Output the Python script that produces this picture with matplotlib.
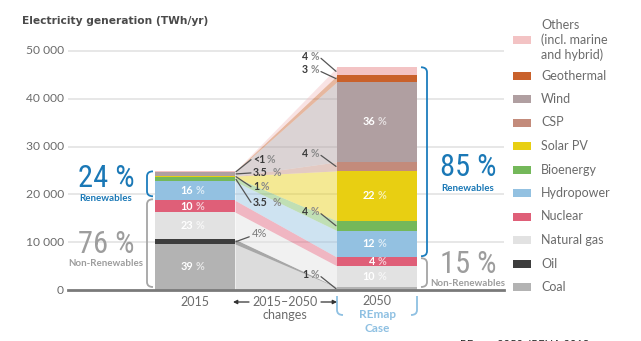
import numpy as np
import matplotlib
matplotlib.use("Agg")
import matplotlib.pyplot as plt
from matplotlib import font_manager
from matplotlib.path import Path
from matplotlib.patches import PathPatch, Rectangle

# ── data (TWh/yr) ────────────────────────────────────────────────────
sources = ["Coal", "Oil", "Natural gas", "Nuclear", "Hydropower", "Bioenergy",
           "Solar PV", "CSP", "Wind", "Geothermal",
           "Others\n(incl. marine\nand hybrid)"]
gen_2015 = [9630, 990, 5680, 2470, 3950, 860, 250, 20, 860, 80, 30]
gen_2050 = [550, 40, 4450, 1820, 5560, 2050, 10450, 1880, 16750, 1350, 1700]
is_renewable = [False, False, False, False, True, True, True, True, True, True, True]
colors = ["#b3b3b3", "#3d3d3d", "#e2e2e2", "#df5f78", "#93c1e1", "#74b85a",
          "#e8cf12", "#c38b7b", "#b09fa1", "#c9612b", "#f3c3c4"]
yticks = [0, 10000, 20000, 30000, 40000, 50000]
ytick_labels = ["0", "10 000", "20 000", "30 000", "40 000", "50 000"]

# which segments get a share printed inside the bar
inside_2015 = [0, 2, 3, 4]
inside_2050 = [2, 3, 4, 6, 8]
# leader labels: (segment, format, text offset in px)
lead_2015 = [(9, "<1", -12), (8, "{:.1f}", -1), (6, "{:.0f}", 10), (5, "{:.1f}", 23)]
lead_2050 = [(10, 15), (9, 9), (7, 13), (5, 14), (0, 14)]

names = {f.name for f in font_manager.fontManager.ttflist}
FONT = "Lato" if "Lato" in names else "DejaVu Sans"
BIG = next((n for n in ["Roboto Condensed", "Liberation Sans Narrow",
                        "Open Sans Condensed", "Noto Sans Display"] if n in names), FONT)
plt.rcParams["font.family"] = [FONT, "DejaVu Sans"]

DARK = "#3a3a3a"
GREY = "#6b6b6b"
BLUE = "#1a78b6"
LBLUE = "#8ec0e2"
BIGGREY = "#9d9d9d"

X15, X50, BW = 195, 377, 80      # bar centres / width (x in px units)
W, H = 641, 341

fig = plt.figure(figsize=(W / 100, H / 100), dpi=100)
ymax = 52000
px_per = 47.8 / 10000
ax = fig.add_axes([68 / W, (H - 290) / H, 436 / W, ymax * px_per / H])
ax.set_xlim(68, 504)
ax.set_ylim(0, ymax)
ax.axis("off")
# overlay in figure pixels for text outside the plot
ov = fig.add_axes([0, 0, 1, 1])
ov.set_xlim(0, W)
ov.set_ylim(H, 0)
ov.axis("off")
ov.set_zorder(-1)


def dy(px):
    return px / px_per


for t in yticks[1:]:
    ax.plot([68, 504], [t, t], color="#e3e3e3", lw=1.2, zorder=0)
for t, lab in zip(yticks, ytick_labels):
    ax.text(64, t, lab, ha="right", va="center", fontsize=8.7, color=GREY,
            clip_on=False)
ax.plot([68, 504], [0, 0], color="#7a7a7a", lw=2, zorder=5, clip_on=False)

b15 = np.concatenate([[0], np.cumsum(gen_2015)])
b50 = np.concatenate([[0], np.cumsum(gen_2050)])
tot15, tot50 = b15[-1], b50[-1]

for i, c in enumerate(colors):
    ax.bar(X15, gen_2015[i], BW, bottom=b15[i], color=c, lw=0, zorder=2)
    ax.bar(X50, gen_2050[i], BW, bottom=b50[i], color=c, lw=0, zorder=2)
    xs = [X15 + BW / 2, X50 - BW / 2]
    ax.fill_between(xs, [b15[i], b50[i]], [b15[i + 1], b50[i + 1]],
                    color=c, alpha=0.45, lw=0, zorder=1)


def pct_text(x, y, num, size):
    # bold white number, faded "%"
    ax.annotate(num, (x, y), xytext=(0, 0), textcoords="offset pixels",
                ha="right", va="center", fontsize=size, color="white",
                weight="bold", clip_on=False)
    ax.annotate("%", (x, y), xytext=(3, 0), textcoords="offset pixels",
                ha="left", va="center", fontsize=size, color="#ffffffaa",
                weight="bold", clip_on=False)


for i in inside_2015:
    p = gen_2015[i] / tot15 * 100
    pct_text(X15 - 2, b15[i] + gen_2015[i] / 2, f"{p:.0f}", 7.8)
for i in inside_2050:
    p = gen_2050[i] / tot50 * 100
    pct_text(X50 - 2, b50[i] + gen_2050[i] / 2, f"{p:.0f}", 7.8)

# leader labels on the right of the 2015 bar
for i, fmt, off in lead_2015:
    p = gen_2015[i] / tot15 * 100
    num = fmt if fmt.startswith("<") else fmt.format(p)
    xe, ye = X15 + BW / 2 + 1, b15[i] + gen_2015[i] / 2
    ax.annotate("", (xe, ye), xytext=(15, -off), textcoords="offset pixels",
                arrowprops=dict(arrowstyle="-", color="#555555", lw=0.9,
                                shrinkA=0, shrinkB=0))
    ax.annotate(num, (xe, ye), xytext=(17, -off), textcoords="offset pixels",
                ha="left", va="center", fontsize=7.6, color=DARK, weight="bold",
                clip_on=False)
    ax.annotate("%", (xe, ye), xytext=(18 + 6.2 * len(num), -off),
                textcoords="offset pixels", ha="left", va="center",
                fontsize=7.6, color="#8a8a8a", weight="bold", clip_on=False)

# oil share leaving the 2015 bar
p_oil = gen_2015[1] / tot15 * 100
ax.annotate(f"{p_oil:.0f}%", (X15 + BW / 2 + 1, b15[1] + gen_2015[1] / 2),
            xytext=(16, 8), textcoords="offset pixels", ha="left", va="center",
            fontsize=8, color="#7a7a7a",
            arrowprops=dict(arrowstyle="-", color="#555555", lw=0.9,
                            shrinkA=0, shrinkB=0, relpos=(0, 0.3)))

# leader labels on the left of the 2050 bar
for i, off in lead_2050:
    p = gen_2050[i] / tot50 * 100
    xe, ye = X50 - BW / 2 - 1, b50[i] + gen_2050[i] / 2
    ax.annotate("", (xe, ye), xytext=(-15, off - 2), textcoords="offset pixels",
                arrowprops=dict(arrowstyle="-", color="#555555", lw=0.9,
                                shrinkA=0, shrinkB=0))
    ax.annotate("%", (xe, ye), xytext=(-17, off), textcoords="offset pixels",
                ha="right", va="center", fontsize=7.6, color="#8a8a8a",
                weight="bold", clip_on=False)
    ax.annotate(f"{p:.0f}", (xe, ye), xytext=(-28, off), textcoords="offset pixels",
                ha="right", va="center", fontsize=7.6, color=DARK,
                weight="bold", clip_on=False)


def bracket(x, y0, y1, d, color, r=5):
    verts = [(x + d, y0), (x, y0), (x, y0 + dy(r)), (x, y1 - dy(r)),
             (x, y1), (x + d, y1)]
    codes = [Path.MOVETO, Path.CURVE3, Path.CURVE3, Path.LINETO,
             Path.CURVE3, Path.CURVE3]
    ax.add_patch(PathPatch(Path(verts, codes), fc="none", ec=color, lw=1.3,
                           clip_on=False, zorder=4))


nonren_15 = sum(v for v, r in zip(gen_2015, is_renewable) if not r)
nonren_50 = sum(v for v, r in zip(gen_2050, is_renewable) if not r)
bracket(147, nonren_15 + dy(4), tot15, 6, "#1c7dbd")
bracket(147, 0 + dy(3), nonren_15 + dy(1), 6, "#a5a5a5")
bracket(427, nonren_50 + dy(1), tot50, -6, "#1c7dbd")
bracket(427, 0 + dy(3), nonren_50 - dy(1), -6, "#a5a5a5")


def share_block(x, ymid, share, col, word, gap):
    ax.text(x, ymid, f"{share:.0f} %", ha="center", va="center", fontsize=22,
            color=col, family=[BIG, "DejaVu Sans"], stretch="condensed",
            clip_on=False)
    ax.text(x, ymid - dy(gap), word, ha="center", va="center", fontsize=7,
            color=col, weight="bold", clip_on=False)


share_block(106, tot15 - dy(7), (tot15 - nonren_15) / tot15 * 100, BLUE,
            "Renewables", 20)
share_block(106, nonren_15 - dy(44), nonren_15 / tot15 * 100, BIGGREY,
            "Non-Renewables", 19)
share_block(468, nonren_50 + dy(90), (tot50 - nonren_50) / tot50 * 100, BLUE,
            "Renewables", 21)
share_block(468, nonren_50 - dy(7), nonren_50 / tot50 * 100, BIGGREY,
            "Non-Renewables", 19)

# ── titles and axis captions ─────────────────────────────────────────
ov.text(22, 21, "Electricity generation (TWh/yr)", ha="left", va="center",
        fontsize=7.7, weight="bold", color="#4a4a4a",
        family=["DejaVu Sans"])
ov.text(X15, 302, "2015", ha="center", va="center", fontsize=9, color=GREY)
ov.text(285, 302, "2015–2050", ha="center", va="center", fontsize=9, color=GREY)
ov.text(285, 315, "changes", ha="center", va="center", fontsize=9, color=GREY)
ov.annotate("", (233, 302), xytext=(249, 302),
            arrowprops=dict(arrowstyle="-|>", color="#333333", lw=0.9,
                            mutation_scale=6, shrinkA=0, shrinkB=0))
ov.annotate("", (337, 302), xytext=(321, 302),
            arrowprops=dict(arrowstyle="-|>", color="#333333", lw=0.9,
                            mutation_scale=6, shrinkA=0, shrinkB=0))
ov.text(X50, 301, "2050", ha="center", va="center", fontsize=9, color=GREY)
ov.text(X50, 315, "REmap", ha="center", va="center", fontsize=8.5,
        color=LBLUE, weight="bold")
ov.text(X50, 329, "Case", ha="center", va="center", fontsize=8.5,
        color=LBLUE, weight="bold")
for x0, d in [(X50 - BW / 2, 6), (X50 + BW / 2, -6)]:
    verts = [(x0, 296), (x0, 310), (x0, 315), (x0 + d, 315)]
    codes = [Path.MOVETO, Path.LINETO, Path.CURVE3, Path.CURVE3]
    ov.add_patch(PathPatch(Path(verts, codes), fc="none", ec=LBLUE, lw=1.3))
ov.text(460, 345, "REmap 2050, IRENA 2018", ha="left", va="center",
        fontsize=8, color="#222222")

# ── legend, top to bottom ────────────────────────────────────────────
leg_y = [40, 75.7, 99, 122.5, 146, 169.5, 193, 216.5, 240, 263.5, 287]
for name, c, yc in zip(sources[::-1], colors[::-1], leg_y):
    ov.add_patch(Rectangle((513, yc - 4), 18, 8, fc=c, ec="none"))
    ov.text(541, yc, name, ha="left", va="center", fontsize=9, color=GREY,
            linespacing=1.2)

fig.savefig("out.png", dpi=100)
